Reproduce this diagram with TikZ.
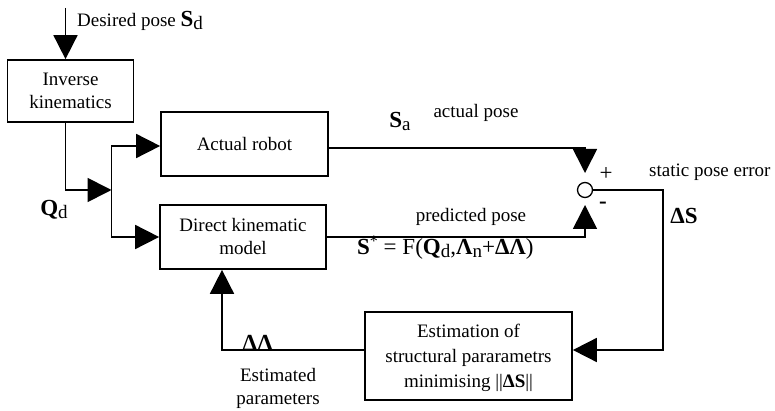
\documentclass[tikz,border=0pt]{standalone}
\usepackage{fontspec}
\setmainfont{Liberation Serif}
\usetikzlibrary{arrows.meta}

\newcommand{\bsub}[2]{{\fontsize{23}{23}\selectfont\bfseries #1}\raisebox{-3pt}{\fontsize{19}{19}\selectfont #2}}
\newcommand{\lrg}[1]{{\fontsize{23}{23}\selectfont #1}}

\tikzset{
  every node/.style={font=\fontsize{19}{23}\selectfont, inner sep=0pt},
  blk/.style={draw, line width=1.7pt, align=center},
  wire/.style={line width=1.7pt},
  arr/.style={line width=1.7pt, -{Triangle[length=24pt,width=24pt]}},
}

\begin{document}
\begin{tikzpicture}[x=1pt,y=1pt,yscale=-1,xscale=1]
\useasboundingbox (0,0) rectangle (775,411);

% blocks
\node[blk, minimum width=126pt, minimum height=62pt] (inv) at (70.5,91) {Inverse\\kinematics};
\node[blk, minimum width=167pt, minimum height=64pt] (robot) at (244.5,144) {Actual robot};
\node[blk, minimum width=166pt, minimum height=64pt] (direct) at (243,237) {Direct kinematic\\model};
\node[blk, minimum width=207pt, minimum height=88pt, text depth=0pt] (est) at (468.5,356)
  {Estimation of\\[2pt] structural pararametrs\\[2pt] minimising ||\textbf{ΔS}||};
\node[circle, draw, line width=1.3pt, minimum size=15pt] (sum) at (585,190) {};

% helper points
\coordinate (in) at (65.5,8);
\coordinate (split) at (111.5,190);
\coordinate (sumin) at (585,173);
\coordinate (sumback) at (585,205);
\coordinate (err) at (663,190);

% connectors
\draw[arr] (in) -- (in |- inv.north);
\draw[arr] (inv.south -| in) |- (split);
\draw[arr] (split) |- ([yshift=2pt]robot.west);
\draw[arr] (split) |- (direct.west);
\draw[arr] ([yshift=4pt]robot.east) -| (sumin);
\draw[arr] (direct.east) -| (sumback);
\draw[arr] (sum.east) -- (err) |- ([yshift=-6pt]est.east);
\draw[arr] ([yshift=-6pt]est.west) -| ([xshift=-21pt]direct.south);

% labels
\node[anchor=west] (sd) at (77,21) {Desired pose \bsub{S}{d}};
\node (qd) at (54,210) {\bsub{Q}{d}};
\node (sa) at (400,121) {\bsub{S}{a}};
\node (apose) at (476,113) {actual pose};
\node (plus) at (606,174) {\lrg{+}};
\node (minus) at (603,205) {\lrg{\textbf{-}}};
\node[anchor=west] (spe) at (649,172) {static pose error};
\node (ds) at (684,216) {\lrg{\textbf{ΔS}}};
\node (ppose) at (471,217) {predicted pose};
\node[anchor=west] (form) at (357,248)
  {\lrg{\textbf{S}}\raisebox{8pt}{\fontsize{16}{16}\selectfont *}\lrg{ = F(}\bsub{Q}{d}\lrg{,}\bsub{Λ}{n}\lrg{+\textbf{ΔΛ})}};
\node (dl) at (258,343) {\lrg{\textbf{ΔΛ}}};
\node[align=center] (epar) at (278,388) {Estimated\\parameters};

\end{tikzpicture}
\end{document}
